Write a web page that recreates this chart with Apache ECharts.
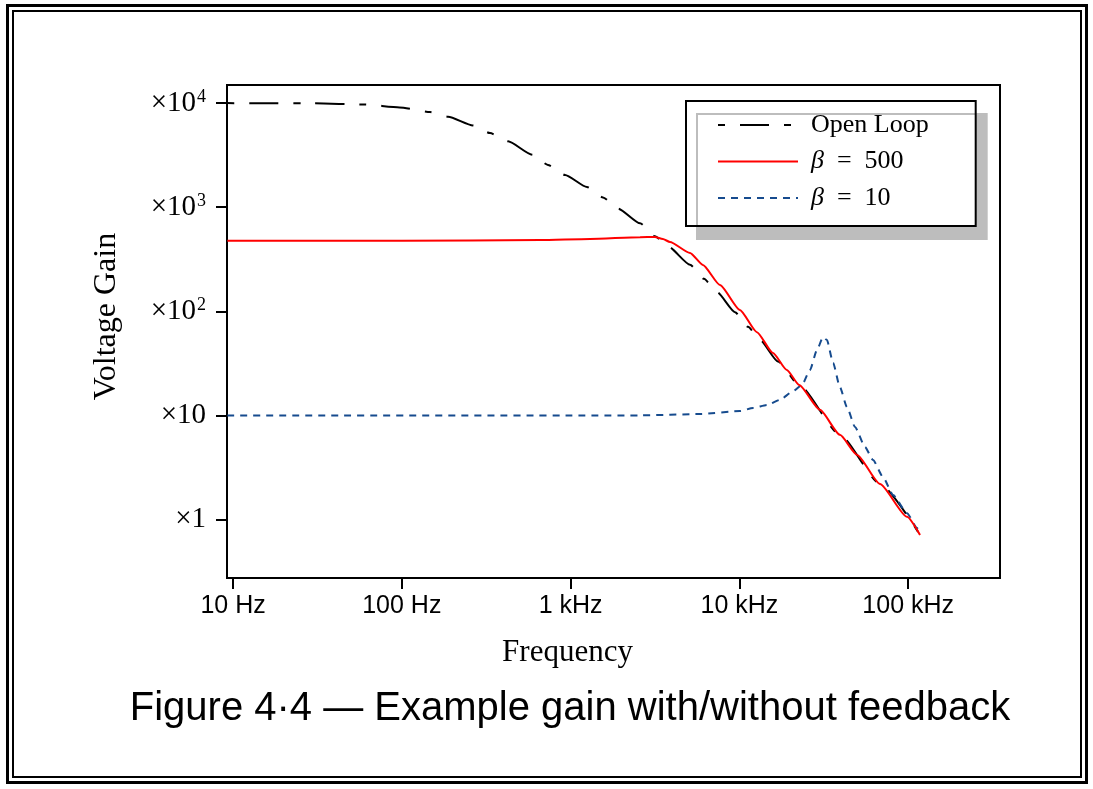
<!DOCTYPE html>
<html>
<head>
<meta charset="utf-8">
<script src="https://cdn.jsdelivr.net/npm/echarts@6/dist/echarts.min.js"></script>
<style>
html, body { margin: 0; padding: 0; background: #fff; }
#chart { width: 1093px; height: 789px; }
</style>
</head>
<body>
<div id="chart"></div>
<script>
// frequency in Hz, voltage gain as a plain ratio
var openFreq = [9.25, 30, 60, 97, 147, 188, 264, 333, 426, 591, 734, 927, 1250, 1555, 1910, 2580, 3160, 3780, 5100, 6170, 7360, 9420, 11250, 13250, 16900, 22600, 39400, 68100, 117500];
var openGain = [10000, 9950, 9700, 9100, 8200, 7400, 6100, 5150, 4300, 3200, 2550, 2040, 1560, 1240, 970, 700, 525, 420, 280, 205, 153, 98, 71, 53, 33, 19.5, 6.5, 2.2, 0.71];

var fb500Freq = [9.25, 100, 659, 1303, 2580, 3160, 3520, 3880, 5100, 6080, 7670, 10070, 12700, 15800, 19100, 22600, 30000, 39400, 49800, 68100, 98400, 117500];
var fb500Gain = [475, 476, 484, 495, 515, 517, 495, 463, 363, 279, 179, 103, 63, 39.7, 27.3, 19.6, 11.3, 6.5, 4.17, 2.19, 1.06, 0.71];

var fb10Freq = [9.25, 2580, 5850, 10070, 12050, 14600, 17400, 20500, 23500, 26200, 28800, 31300, 33000, 35900, 39400, 43400, 48400, 55500, 61900, 70900, 81300, 98400, 112800, 117500];
var fb10Gain = [10, 10, 10.3, 11, 11.8, 12.6, 14.1, 16.8, 19.6, 27.3, 42.5, 56.6, 53, 31.9, 18.7, 12, 7.74, 4.97, 3.73, 2.56, 1.72, 1.15, 0.83, 0.74];

var freqTicks = [10, 100, 1000, 10000, 100000];
var freqLabels = ['10 Hz', '100 Hz', '1 kHz', '10 kHz', '100 kHz'];
var gainTicks = [1, 10, 100, 1000, 10000];
var gainLabels = ['{m|×1}', '{m|×10}', '{m|×10}{s|2}', '{m|×10}{s|3}', '{m|×10}{s|4}'];

var seriesNames = ['Open Loop', 'β = 500', 'β = 10'];
var legendLabels = ['Open Loop', '{b|β}  =  500', '{b|β}  =  10'];

var serif = '"Liberation Serif", "DejaVu Serif", serif';
var sans = '"Liberation Sans", Arial, sans-serif';

function zip(xs, ys) {
    var out = [];
    for (var i = 0; i < xs.length; i++) out.push([xs[i], ys[i]]);
    return out;
}

function pickLabel(ticks, labels, value) {
    for (var i = 0; i < ticks.length; i++) {
        if (Math.abs(Math.log10(value) - Math.log10(ticks[i])) < 1e-6) return labels[i];
    }
    return '';
}

var myChart = echarts.init(document.getElementById('chart'));

var option = {
    animation: false,
    backgroundColor: '#fff',
    grid: {
        left: 227, right: 93, top: 85, bottom: 211,
        show: true, borderColor: '#000', borderWidth: 2, backgroundColor: 'transparent'
    },
    legend: {
        orient: 'vertical',
        left: 686, top: 101,
        padding: [11, 47, 15, 31],
        itemWidth: 80, itemHeight: 22, itemGap: 10.5,
        backgroundColor: '#fff', borderColor: '#000', borderWidth: 2,
        shadowColor: '#bdbdbd', shadowBlur: 0, shadowOffsetX: 11, shadowOffsetY: 13,
        selectedMode: false,
        itemStyle: { opacity: 0, color: 'transparent', borderWidth: 0 },
        data: seriesNames,
        formatter: function (name) {
            return legendLabels[seriesNames.indexOf(name)];
        },
        textStyle: {
            fontFamily: serif, fontSize: 26, color: '#000', lineHeight: 22,
            padding: [0, 0, 0, 8],
            rich: {
                b: { fontFamily: serif, fontSize: 26, fontStyle: 'italic', lineHeight: 22 }
            }
        }
    },
    xAxis: {
        type: 'log', logBase: 10,
        min: 9.21, max: 349900,
        name: 'Frequency', nameLocation: 'middle', nameGap: 59,
        nameTextStyle: { fontFamily: serif, fontSize: 31, color: '#000', padding: [0, 92, 0, 0] },
        axisLine: { show: true, onZero: false, lineStyle: { color: '#000', width: 2 } },
        axisTick: { show: true, length: 11, lineStyle: { color: '#000', width: 2 }, customValues: freqTicks },
        axisLabel: {
            customValues: freqTicks, margin: 16,
            fontFamily: sans, fontSize: 25, color: '#000',
            formatter: function (v) { return pickLabel(freqTicks, freqLabels, v); }
        },
        splitLine: { show: false },
        minorTick: { show: false }
    },
    yAxis: {
        type: 'log', logBase: 10,
        min: 0.274, max: 14930,
        name: 'Voltage Gain', nameLocation: 'middle', nameGap: 104,
        nameTextStyle: { fontFamily: serif, fontSize: 32, color: '#000', padding: [0, 0, 0, 30] },
        axisLine: { show: true, onZero: false, lineStyle: { color: '#000', width: 2 } },
        axisTick: { show: true, length: 11, lineStyle: { color: '#000', width: 2 }, customValues: gainTicks },
        axisLabel: {
            customValues: gainTicks, margin: 21, color: '#000',
            fontFamily: serif, fontSize: 29,
            formatter: function (v) { return pickLabel(gainTicks, gainLabels, v); },
            rich: {
                m: { fontFamily: serif, fontSize: 29, color: '#000' },
                s: { fontFamily: serif, fontSize: 18, color: '#000', padding: [0, 0, 12, 1] }
            }
        },
        splitLine: { show: false },
        minorTick: { show: false }
    },
    series: [
        {
            name: seriesNames[0], type: 'line', showSymbol: false, symbol: 'none',
            smooth: 0.2, smoothMonotone: 'x',
            lineStyle: { color: '#000', width: 2, type: [7, 15, 29, 15] },
            itemStyle: { color: '#000' },
            data: zip(openFreq, openGain), z: 2
        },
        {
            name: seriesNames[1], type: 'line', showSymbol: false, symbol: 'none',
            smooth: 0.2, smoothMonotone: 'x',
            lineStyle: { color: '#ff0000', width: 2, type: 'solid' },
            itemStyle: { color: '#ff0000' },
            data: zip(fb500Freq, fb500Gain), z: 3
        },
        {
            name: seriesNames[2], type: 'line', showSymbol: false, symbol: 'none',
            smooth: 0.2, smoothMonotone: 'x',
            lineStyle: { color: '#164b8e', width: 2, type: [7, 6] },
            itemStyle: { color: '#164b8e' },
            data: zip(fb10Freq, fb10Gain), z: 2
        }
    ],
    graphic: [
        { type: 'rect', silent: true, shape: { x: 7.5, y: 5.5, width: 1079, height: 777 },
          style: { fill: 'none', stroke: '#000', lineWidth: 3 } },
        { type: 'rect', silent: true, shape: { x: 13, y: 11, width: 1068, height: 766 },
          style: { fill: 'none', stroke: '#000', lineWidth: 2 } },
        { type: 'text', silent: true, x: 570, y: 709,
          style: { text: 'Figure 4·4 — Example gain with/without feedback', fontFamily: sans, fontSize: 40,
                   fill: '#000', align: 'center', verticalAlign: 'middle', textAlign: 'center', textVerticalAlign: 'middle' } }
    ]
};

myChart.setOption(option);
</script>
</body>
</html>
